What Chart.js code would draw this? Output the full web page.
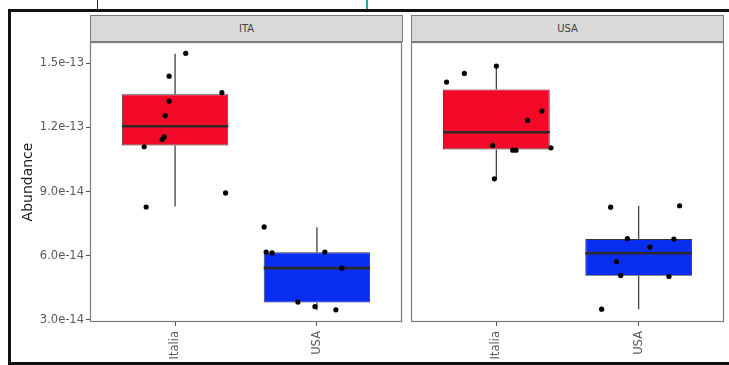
<!DOCTYPE html>
<html><head><meta charset="utf-8">
<script src="https://cdn.jsdelivr.net/npm/chart.js@4/dist/chart.umd.min.js"></script>
<style>
html,body{margin:0;padding:0;width:729px;height:365px;overflow:hidden;background:#fff;font-family:'DejaVu Sans',sans-serif}
.frame{position:absolute;left:8px;top:9px;width:760px;height:356px;box-sizing:border-box;border:3px solid #111;}
canvas{position:absolute;top:0}
.strip{position:absolute;top:15px;height:27px;box-sizing:border-box;background:#d9d9d9;border:1px solid #7a7a7a;color:#444;font-size:10px;text-align:center;line-height:25px}
.mark{position:absolute;top:0;height:9px;width:1px}
</style></head><body>
<div class="mark" style="left:97px;background:#222"></div>
<div class="mark" style="left:366px;width:2px;background:#2aa6a0"></div>
<div class="frame"></div>
<canvas id="c1" width="406" height="365" style="left:0"></canvas>
<canvas id="c2" width="329" height="365" style="left:400px"></canvas>
<div class="strip" style="left:90px;width:313px">ITA</div>
<div class="strip" style="left:411px;width:313px">USA</div>
<script>
// ---- data ----
const facets = ['ITA', 'USA'];
const categories = ['Italia', 'USA'];
const yTickValues = [3e-14, 6e-14, 9e-14, 1.2e-13, 1.5e-13];
const yTickLabels = ['3.0e-14', '6.0e-14', '9.0e-14', '1.2e-13', '1.5e-13'];
const boxColors = ['#f20a28', '#0a2ef0'];

// box statistics per category (Italia, USA)
const ITA_low  = [8.3e-14, 3.45e-14];
const ITA_q1   = [1.116e-13, 3.81e-14];
const ITA_med  = [1.206e-13, 5.42e-14];
const ITA_q3   = [1.355e-13, 6.16e-14];
const ITA_high = [1.545e-13, 7.33e-14];

const USA_low  = [9.6e-14, 3.5e-14];
const USA_q1   = [1.097e-13, 5.06e-14];
const USA_med  = [1.178e-13, 6.12e-14];
const USA_q3   = [1.378e-13, 6.78e-14];
const USA_high = [1.488e-13, 8.34e-14];

// jittered observations
const ITA_Italia_vals   = [1.547e-13, 1.44e-13, 1.363e-13, 1.323e-13, 1.256e-13, 1.156e-13, 1.144e-13, 1.11e-13, 8.94e-14, 8.28e-14];
const ITA_Italia_jitter = [0.075, -0.042, 0.33, -0.042, -0.07, -0.077, -0.091, -0.218, 0.356, -0.204];
const ITA_USA_vals      = [7.35e-14, 6.17e-14, 6.13e-14, 6.17e-14, 5.42e-14, 3.83e-14, 3.62e-14, 3.47e-14];
const ITA_USA_jitter    = [-0.372, -0.358, -0.316, 0.056, 0.176, -0.134, -0.014, 0.134];
const USA_Italia_vals   = [1.4875e-13, 1.453e-13, 1.4125e-13, 1.277e-13, 1.233e-13, 1.116e-13, 1.094e-13, 1.094e-13, 1.105e-13, 9.6e-14];
const USA_Italia_jitter = [0, -0.225, -0.35, 0.32, 0.22, -0.026, 0.115, 0.138, 0.384, -0.014];
const USA_USA_vals      = [8.27e-14, 8.34e-14, 6.8e-14, 6.78e-14, 6.4e-14, 5.73e-14, 5.08e-14, 5.03e-14, 3.5e-14];
const USA_USA_jitter    = [-0.197, 0.288, -0.079, 0.248, 0.079, -0.155, -0.126, 0.213, -0.26];

const facetData = {
  ITA: {low: ITA_low, q1: ITA_q1, med: ITA_med, q3: ITA_q3, high: ITA_high,
        vals: [ITA_Italia_vals, ITA_USA_vals], jit: [ITA_Italia_jitter, ITA_USA_jitter]},
  USA: {low: USA_low, q1: USA_q1, med: USA_med, q3: USA_q3, high: USA_high,
        vals: [USA_Italia_vals, USA_USA_vals], jit: [USA_Italia_jitter, USA_USA_jitter]}
};

Chart.defaults.font.family = "'DejaVu Sans', sans-serif";

const panelBorder = {
  id: 'panelBorder',
  afterDraw(chart) {
    const {ctx, chartArea: a} = chart;
    ctx.save();
    ctx.strokeStyle = '#7a7a7a';
    ctx.lineWidth = 1.2;
    ctx.strokeRect(a.left + 0.5, a.top + 0.5, a.right - a.left - 1, a.bottom - a.top - 1);
    ctx.restore();
  }
};

function build(id, facet, showY, pad) {
  const d = facetData[facet];
  const half = 0.375;
  const boxes = categories.map((c, i) => ({x: i + 1, y: [d.q1[i], d.q3[i]]}));
  const whiskers = [];
  const medians = [];
  categories.forEach((c, i) => {
    const x = i + 1;
    whiskers.push({x, y: d.q3[i]}, {x, y: d.high[i]}, {x, y: null}, {x, y: d.q1[i]}, {x, y: d.low[i]}, {x, y: null});
    medians.push({x: x - half, y: d.med[i]}, {x: x + half, y: d.med[i]}, {x: x + half, y: null});
  });
  const pts = [];
  categories.forEach((c, i) => {
    d.vals[i].forEach((v, k) => pts.push({x: i + 1 + d.jit[i][k], y: v}));
  });

  new Chart(document.getElementById(id), {
    type: 'bar',
    data: {
      datasets: [
        {type: 'line', data: whiskers, borderColor: '#444', borderWidth: 1.3, pointRadius: 0, spanGaps: false, order: 4},
        {type: 'bar', data: boxes, backgroundColor: boxColors, borderColor: '#333', borderWidth: 0.9,
         borderSkipped: false, categoryPercentage: 0.75, barPercentage: 1, order: 3},
        {type: 'line', data: medians, borderColor: '#2a2a2a', borderWidth: 2.6, pointRadius: 0, spanGaps: false, order: 2},
        {type: 'scatter', data: pts, backgroundColor: '#000', borderColor: '#000', pointRadius: 2.6, pointBorderWidth: 0, order: 1}
      ]
    },
    options: {
      responsive: false,
      animation: false,
      layout: {padding: pad},
      plugins: {legend: {display: false}, tooltip: {enabled: false}},
      scales: {
        x: {
          type: 'linear', min: 0.4, max: 2.6, offset: false,
          afterBuildTicks: s => { s.ticks = categories.map((c, i) => ({value: i + 1})); },
          afterFit: s => { s.height = 43; },
          grid: {drawOnChartArea: false, drawTicks: true, tickLength: 4, tickColor: '#555', color: '#555', offset: false},
          border: {display: false},
          ticks: {autoSkip: false, minRotation: 90, maxRotation: 90, padding: 5, color: '#5a5a5a',
                  font: {size: 11.5}, callback: v => categories[Math.round(v) - 1]}
        },
        y: {
          type: 'linear', min: 2.9e-14, max: 1.6e-13, display: showY,
          afterBuildTicks: s => { s.ticks = yTickValues.map(v => ({value: v})); },
          afterFit: s => { if (showY) s.width = 90; },
          grid: {drawOnChartArea: false, drawTicks: true, tickLength: 4, tickColor: '#555', color: '#555'},
          border: {display: false},
          ticks: {padding: 2, color: '#5a5a5a', font: {size: 11.5},
                  callback: v => { const k = yTickValues.findIndex(t => Math.abs(t - v) < 1e-16); return k >= 0 ? yTickLabels[k] : ''; }},
          title: {display: true, text: 'Abundance', color: '#1a1a1a', font: {size: 14}, padding: {top: 20, bottom: 0}}
        }
      }
    },
    plugins: [panelBorder]
  });
}

build('c1', 'ITA', true, {left: 0, top: 42, right: 3, bottom: 0});
build('c2', 'USA', false, {left: 11, top: 42, right: 5, bottom: 0});
</script>
</body></html>
